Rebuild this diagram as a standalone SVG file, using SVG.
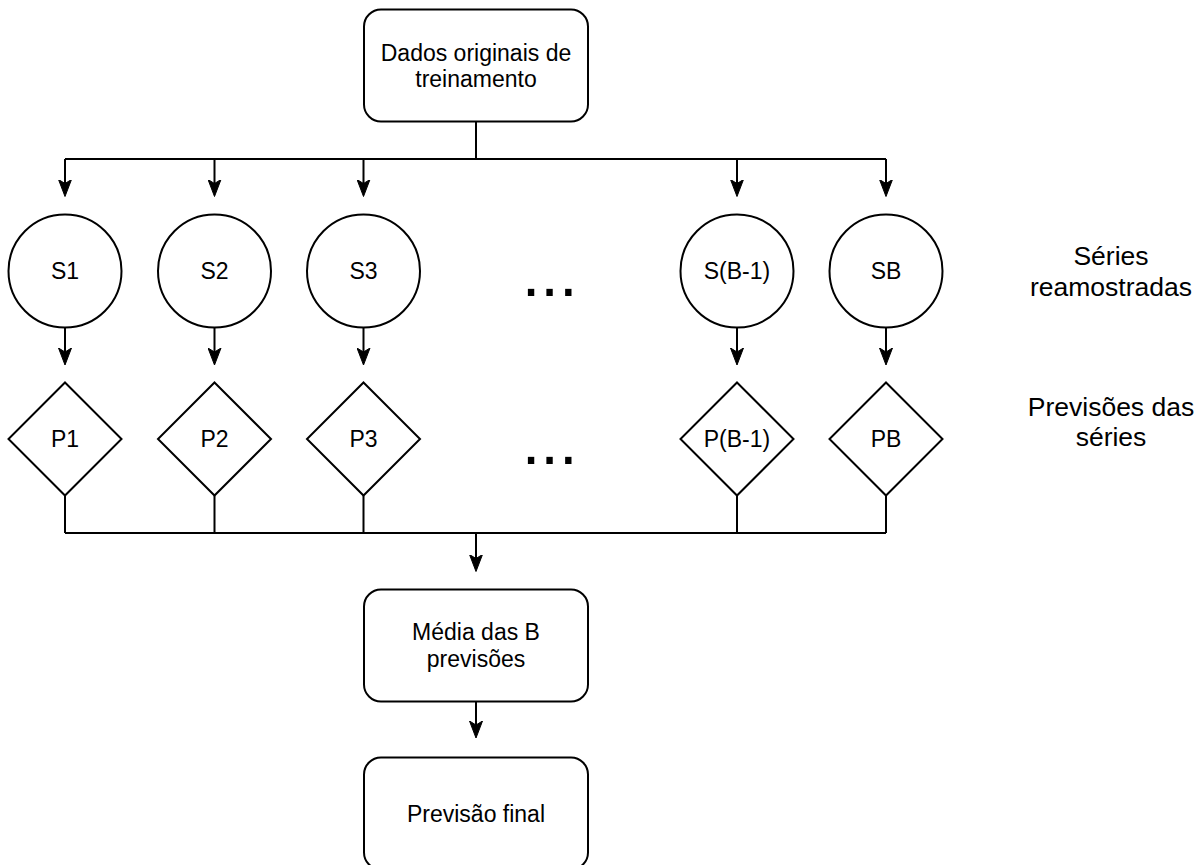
<svg xmlns="http://www.w3.org/2000/svg" width="1200" height="865" viewBox="0 0 1200 865">
<style>
.shape{fill:#ffffff;stroke:#000000;stroke-width:2}
.edge{fill:none;stroke:#000000;stroke-width:2}
.lbl{font-family:"Liberation Sans",Arial,sans-serif;font-size:23px;fill:#000000;text-anchor:middle}
.side{font-family:"Liberation Sans",Arial,sans-serif;font-size:26.5px;fill:#000000;text-anchor:middle}
.dots{font-family:"Liberation Sans",Arial,sans-serif;font-size:67px;fill:#000000;text-anchor:middle}
</style>
<defs>
<marker id="arrow" markerUnits="userSpaceOnUse" markerWidth="18" markerHeight="14" viewBox="0 0 18 14" refX="13" refY="7" orient="auto">
<path d="M17,7 L0,0.5 L4,7 L0,13.5 Z" fill="#000000" stroke="#000000" stroke-width="1" stroke-linejoin="miter"/>
</marker>
</defs>
<rect width="1200" height="865" fill="#ffffff"/>
<g id="connectors">
<path class="edge" d="M476,121.5 V159 M65,159 H886"/>
<path class="edge" marker-end="url(#arrow)" d="M65,159 V192.5"/>
<path class="edge" marker-end="url(#arrow)" d="M214.5,159 V192.5"/>
<path class="edge" marker-end="url(#arrow)" d="M363.5,159 V192.5"/>
<path class="edge" marker-end="url(#arrow)" d="M737,159 V192.5"/>
<path class="edge" marker-end="url(#arrow)" d="M886,159 V192.5"/>
<path class="edge" marker-end="url(#arrow)" d="M65,327.5 V361"/>
<path class="edge" marker-end="url(#arrow)" d="M214.5,327.5 V361"/>
<path class="edge" marker-end="url(#arrow)" d="M363.5,327.5 V361"/>
<path class="edge" marker-end="url(#arrow)" d="M737,327.5 V361"/>
<path class="edge" marker-end="url(#arrow)" d="M886,327.5 V361"/>
<path class="edge" d="M65,495.5 V533 M214.5,495.5 V533 M363.5,495.5 V533 M737,495.5 V533 M886,495.5 V533 M65,533 H886"/>
<path class="edge" marker-end="url(#arrow)" d="M476,533 V567.5"/>
<path class="edge" marker-end="url(#arrow)" d="M476,701.5 V734"/>
</g>
<g id="dados">
<rect class="shape" x="364" y="9.5" width="224" height="112" rx="17" ry="17"/>
<text class="lbl" x="476" y="60.5">Dados originais de</text>
<text class="lbl" x="476" y="87">treinamento</text>
</g>
<g id="s1"><circle class="shape" cx="65" cy="271" r="56.5"/><text class="lbl" x="65" y="279">S1</text></g>
<g id="s2"><circle class="shape" cx="214.5" cy="271" r="56.5"/><text class="lbl" x="214.5" y="279">S2</text></g>
<g id="s3"><circle class="shape" cx="363.5" cy="271" r="56.5"/><text class="lbl" x="363.5" y="279">S3</text></g>
<g id="sb1"><circle class="shape" cx="737" cy="271" r="56.5"/><text class="lbl" x="737" y="279">S(B-1)</text></g>
<g id="sb"><circle class="shape" cx="886" cy="271" r="56.5"/><text class="lbl" x="886" y="279">SB</text></g>
<g id="dots1"><text class="dots" x="549.6" y="295.5">...</text></g>
<g id="p1"><path class="shape" d="M65,382.5 L121.5,439 L65,495.5 L8.5,439 Z"/><text class="lbl" x="65" y="447">P1</text></g>
<g id="p2"><path class="shape" d="M214.5,382.5 L271,439 L214.5,495.5 L158,439 Z"/><text class="lbl" x="214.5" y="447">P2</text></g>
<g id="p3"><path class="shape" d="M363.5,382.5 L420,439 L363.5,495.5 L307,439 Z"/><text class="lbl" x="363.5" y="447">P3</text></g>
<g id="pb1"><path class="shape" d="M737,382.5 L793.5,439 L737,495.5 L680.5,439 Z"/><text class="lbl" x="737" y="447">P(B-1)</text></g>
<g id="pb"><path class="shape" d="M886,382.5 L942.5,439 L886,495.5 L829.5,439 Z"/><text class="lbl" x="886" y="447">PB</text></g>
<g id="dots2"><text class="dots" x="549.6" y="463.5">...</text></g>
<g id="label-series">
<text class="side" x="1111" y="265">Séries</text>
<text class="side" x="1111" y="295.5">reamostradas</text>
</g>
<g id="label-previsoes">
<text class="side" x="1111" y="415.5">Previsões das</text>
<text class="side" x="1111" y="446">séries</text>
</g>
<g id="media">
<rect class="shape" x="364" y="589.5" width="224" height="112" rx="17" ry="17"/>
<text class="lbl" x="476" y="640">Média das B</text>
<text class="lbl" x="476" y="667">previsões</text>
</g>
<g id="final">
<rect class="shape" x="364" y="757.5" width="224" height="112" rx="17" ry="17"/>
<text class="lbl" x="476" y="821.5">Previsão final</text>
</g>
</svg>
